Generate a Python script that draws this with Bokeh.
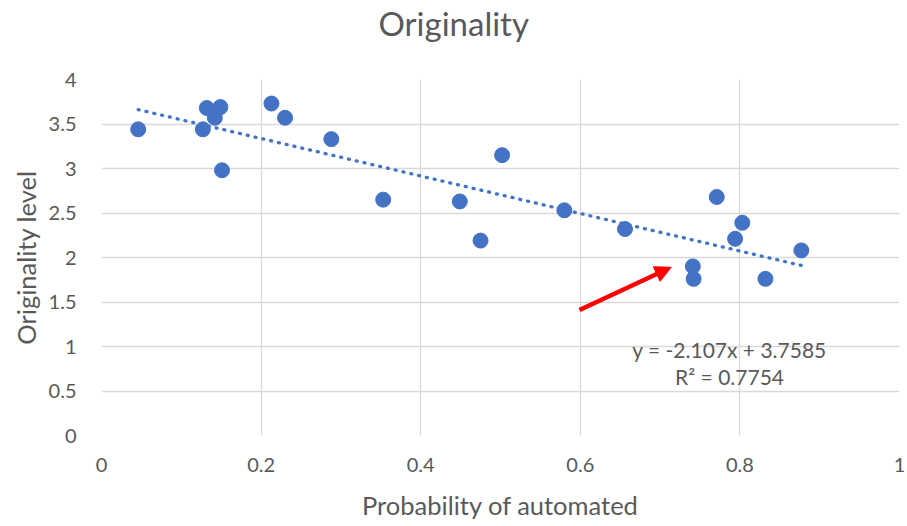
from bokeh.plotting import figure
from bokeh.models import Range1d, FixedTicker, Label, Arrow, NormalHead, Title
from bokeh.embed import file_html
from bokeh.resources import INLINE

# ---- data ----
prob_automated = [0.046, 0.132, 0.149, 0.142, 0.127, 0.151, 0.213, 0.230, 0.288, 0.353,
                  0.449, 0.475, 0.502, 0.580, 0.656, 0.771, 0.803, 0.794, 0.741, 0.742,
                  0.832, 0.877]
originality = [3.44, 3.68, 3.69, 3.57, 3.44, 2.98, 3.73, 3.57, 3.33, 2.65,
               2.63, 2.19, 3.15, 2.53, 2.32, 2.68, 2.39, 2.21, 1.90, 1.76,
               1.76, 2.08]
trend_slope = -2.107
trend_intercept = 3.7585
trend_r2 = 0.7754
x_ticks = [0, 0.2, 0.4, 0.6, 0.8, 1]
x_tick_labels = ["0", "0.2", "0.4", "0.6", "0.8", "1"]
y_ticks = [0, 0.5, 1, 1.5, 2, 2.5, 3, 3.5, 4]
y_tick_labels = ["0", "0.5", "1", "1.5", "2", "2.5", "3", "3.5", "4"]
arrow_start = [0.599, 1.41]
arrow_end = [0.714, 1.89]
eq_pos = [0.787, 0.962, 0.66]
chart_title = "Originality"

FONT = "Lato"
TXT = "#595959"
BLUE = "#4472C4"
GRID = "#d9d9d9"

p = figure(width=907, height=522, x_range=Range1d(0, 1), y_range=Range1d(0, 4),
           output_backend="svg", toolbar_location=None,
           min_border_left=101, min_border_right=8, min_border_top=78, min_border_bottom=85)
p.outline_line_color = None
p.background_fill_color = "white"
p.border_fill_color = "white"
p.title.text = ""

# spacer (next to the frame) then the real title (outermost)
p.add_layout(Title(text=" ", text_font_size="1px", standoff=34), "above")
p.add_layout(Title(text=chart_title, align="left", offset=277, text_font=FONT,
                   text_font_size="33px", text_font_style="normal", text_color=TXT,
                   standoff=0), "above")

p.xaxis.ticker = FixedTicker(ticks=x_ticks)
p.yaxis.ticker = FixedTicker(ticks=y_ticks)
p.xaxis.major_label_overrides = {t: l for t, l in zip(x_ticks, x_tick_labels)}
p.yaxis.major_label_overrides = {t: l for t, l in zip(y_ticks, y_tick_labels)}

for ax in (p.xaxis, p.yaxis):
    ax.axis_line_color = None
    ax.major_tick_line_color = None
    ax.minor_tick_line_color = None
    ax.major_label_text_font = FONT
    ax.major_label_text_font_size = "20px"
    ax.major_label_text_color = TXT
    ax.axis_label_text_font = FONT
    ax.axis_label_text_font_size = "25.5px"
    ax.axis_label_text_font_style = "normal"
    ax.axis_label_text_color = TXT

p.xaxis.major_label_standoff = 16
p.yaxis.major_label_standoff = 19
p.xaxis.axis_label = "Probability of automated"
p.yaxis.axis_label = "Originality level"
p.xaxis.axis_label_standoff = 15
p.yaxis.axis_label_standoff = 5

p.xgrid.grid_line_color = GRID
p.ygrid.grid_line_color = GRID
p.xgrid.grid_line_width = 1.3
p.ygrid.grid_line_width = 1.3

# trendline
tx = [min(prob_automated), max(prob_automated)]
ty = [trend_slope * x + trend_intercept for x in tx]
p.line(tx, ty, line_color=BLUE, line_width=3.3, line_dash="1 7", line_cap="round")

# points
p.scatter(prob_automated, originality, size=15, marker="circle",
          fill_color=BLUE, line_color=BLUE)

# arrow
p.add_layout(Arrow(x_start=arrow_start[0], y_start=arrow_start[1],
                   x_end=arrow_end[0], y_end=arrow_end[1],
                   line_color="#FF0000", line_width=4.5,
                   end=NormalHead(size=16, fill_color="#FF0000", line_color="#FF0000", line_width=1)))

# equation
eq1 = f"y = {trend_slope}x + {trend_intercept}"
eq2 = f"R² = {trend_r2}"
for txt, yy in ((eq1, eq_pos[1]), (eq2, eq_pos[2])):
    p.add_layout(Label(x=eq_pos[0], y=yy, text=txt, text_font=FONT, text_font_size="21px",
                       text_color=TXT, text_align="center", text_baseline="middle"))

open("out.html", "w").write(file_html(p, INLINE))
